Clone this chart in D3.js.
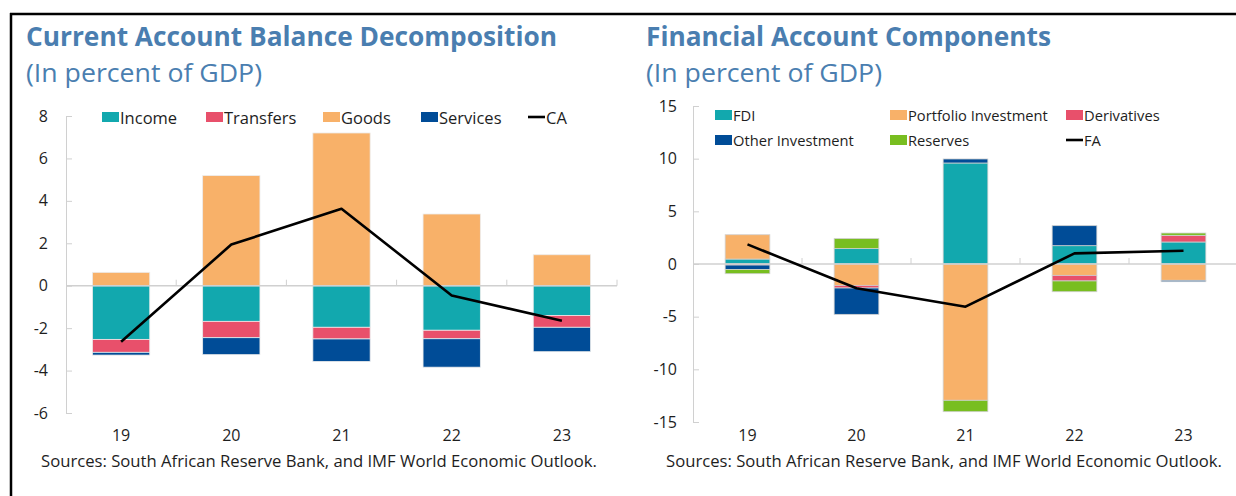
<!DOCTYPE html>
<html>
<head>
<meta charset="utf-8">
<script src="https://cdn.jsdelivr.net/npm/d3@7"></script>
<style>
  html, body { margin: 0; padding: 0; background: #fff; }
  svg { display: block; font-family: "Open Sans", "Noto Sans", sans-serif; }
</style>
</head>
<body>
<svg id="chart" width="1236" height="496"></svg>
<script>
// ---- Data (percent of GDP) ----
const years = ["19", "20", "21", "22", "23"];

// Current account components
const caKeys = ["Income", "Transfers", "Goods", "Services"];
const caIncome    = [-2.53, -1.68, -1.96, -2.10, -1.40];
const caTransfers = [-0.61, -0.77, -0.55, -0.40, -0.56];
const caGoods     = [ 0.63,  5.19,  7.20,  3.38,  1.46];
const caServices  = [-0.13, -0.80, -1.06, -1.34, -1.15];
const caBalance   = [-2.64,  1.94,  3.63, -0.46, -1.65];
const caTicks = [-6, -4, -2, 0, 2, 4, 6, 8];

// Financial account components
const faKeys = ["FDI", "Portfolio Investment", "Derivatives", "Other Investment", "Reserves"];
const faFDI         = [ 0.47,  1.46,   9.59,  1.74,  2.09];
const faPortfolio   = [ 2.31, -2.03, -12.94, -1.08, -1.55];
const faDerivatives = [-0.10, -0.25,   0.00, -0.53,  0.63];
const faOther       = [-0.42, -2.50,   0.38,  1.90, -0.13];
const faReserves    = [-0.40,  0.95,  -1.08, -1.02,  0.22];
const faBalance     = [ 1.86, -2.30,  -4.05,  1.01,  1.26];
const faTicks = [-15, -10, -5, 0, 5, 10, 15];

const sourceNote = "Sources: South African Reserve Bank, and IMF World Economic Outlook.";

const colors = {
  "Income": "#12a8ae", "Transfers": "#e8506b", "Goods": "#f8b169", "Services": "#004c97",
  "FDI": "#12a8ae", "Portfolio Investment": "#f8b169", "Derivatives": "#e8506b",
  "Other Investment": "#004c97", "Reserves": "#78be20"
};
const titleColor = "#4a7eb0";
const axisColor = "#d0d0d0";
const textColor = "#1e1e1e";

const svg = d3.select("#chart");

// Frame lines along the top and left
svg.append("line").attr("x1", 10).attr("x2", 1236).attr("y1", 14).attr("y2", 14)
  .attr("stroke", "#000").attr("stroke-width", 2.5);
svg.append("line").attr("x1", 11).attr("x2", 11).attr("y1", 13).attr("y2", 496)
  .attr("stroke", "#000").attr("stroke-width", 2.5);

// Integer labels with a plain hyphen for negatives
const fmt = d => String(d);

function panel(cfg) {
  const g = svg.append("g");

  // Titles
  g.append("text").attr("x", cfg.titleX).attr("y", 46)
    .attr("fill", titleColor).attr("font-weight", 700).attr("font-size", 26)
    .attr("textLength", cfg.titleLen).attr("lengthAdjust", "spacingAndGlyphs")
    .text(cfg.title);
  g.append("text").attr("x", cfg.titleX).attr("y", 82)
    .attr("fill", titleColor).attr("font-size", 25)
    .attr("textLength", 236).attr("lengthAdjust", "spacingAndGlyphs")
    .text("(In percent of GDP)");

  const x = d3.scaleBand().domain(years).range([cfg.x0, cfg.x1]).padding(0);
  const y = d3.scaleLinear().domain(cfg.yDomain).range([cfg.yBottom, cfg.yTop]);

  // Stacked bars (positives up, negatives down)
  const rows = years.map((yr, i) => {
    const r = { year: yr };
    cfg.keys.forEach((k, j) => { r[k] = cfg.values[j][i]; });
    return r;
  });
  const stacked = d3.stack().keys(cfg.keys).offset(d3.stackOffsetDiverging)(rows);
  const bw = x.bandwidth() * cfg.barFrac;

  g.selectAll("g.series").data(stacked).join("g")
    .attr("fill", d => colors[d.key])
    .selectAll("rect")
    .data(d => d.filter(s => Math.abs(s[1] - s[0]) > 0.005))
    .join("rect")
    .attr("x", d => x(d.data.year) + (x.bandwidth() - bw) / 2)
    .attr("width", bw)
    .attr("y", d => y(Math.max(d[0], d[1])))
    .attr("height", d => Math.abs(y(d[0]) - y(d[1])))
    .attr("stroke", cfg.barStroke).attr("stroke-width", 0.8);

  // Y axis with inward ticks
  const yAxis = d3.axisLeft(y).tickValues(cfg.ticks).tickSizeInner(-6).tickSizeOuter(-6)
    .tickPadding(cfg.labelGap).tickFormat(fmt);
  const ya = g.append("g").attr("transform", `translate(${cfg.x0},0)`).call(yAxis);
  ya.selectAll("path, line").attr("stroke", axisColor);
  ya.selectAll("text").attr("fill", textColor).attr("font-size", 16)
    .attr("font-family", "'Open Sans', sans-serif");

  // Zero line with category-boundary ticks pointing up
  const y0 = y(0);
  g.append("line").attr("x1", cfg.x0).attr("x2", cfg.x1).attr("y1", y0).attr("y2", y0)
    .attr("stroke", axisColor).attr("stroke-width", 1.5);
  const bounds = years.map(d => x(d) + x.bandwidth());
  g.selectAll("line.btick").data(bounds).join("line")
    .attr("x1", d => d).attr("x2", d => d).attr("y1", y0 - 6).attr("y2", y0)
    .attr("stroke", axisColor);

  // Balance line
  const line = d3.line().x((d, i) => x(years[i]) + x.bandwidth() / 2).y(d => y(d));
  g.append("path").datum(cfg.balance).attr("d", line)
    .attr("fill", "none").attr("stroke", "#000").attr("stroke-width", 2.6)
    .attr("stroke-linejoin", "round");

  // Category labels
  const xa = g.append("g").attr("transform", `translate(0,${cfg.labelY})`)
    .call(d3.axisBottom(x).tickSize(0).tickPadding(0));
  xa.select(".domain").remove();
  xa.selectAll("text").attr("fill", textColor).attr("font-size", 16)
    .attr("font-family", "'Open Sans', sans-serif");

  // Source note
  g.append("text").attr("x", cfg.sourceX).attr("y", 467)
    .attr("fill", textColor).attr("font-size", 15.5)
    .attr("textLength", 556).attr("lengthAdjust", "spacingAndGlyphs")
    .text(sourceNote);

  // Legend
  cfg.legend.forEach(item => {
    if (item.line) {
      g.append("line").attr("x1", item.x).attr("x2", item.x + 17)
        .attr("y1", item.y + 5).attr("y2", item.y + 5)
        .attr("stroke", "#000").attr("stroke-width", 2.6);
    } else {
      g.append("rect").attr("x", item.x).attr("y", item.y)
        .attr("width", 17).attr("height", 10).attr("fill", colors[item.key]);
    }
    g.append("text").attr("x", item.x + 18).attr("y", item.y + 5)
      .attr("dominant-baseline", "central")
      .attr("fill", textColor).attr("font-size", cfg.legendSize)
      .text(item.label);
  });
}

panel({
  title: "Current Account Balance Decomposition", titleX: 26, titleLen: 531,
  keys: caKeys, values: [caIncome, caTransfers, caGoods, caServices], balance: caBalance,
  x0: 66, x1: 617, yDomain: [-6, 8], yBottom: 413, yTop: 116, ticks: caTicks,
  barFrac: 0.52, barStroke: "#ececec", labelGap: 18, labelY: 430, sourceX: 41,
  legendSize: 16.5,
  legend: [
    { key: "Income", label: "Income", x: 102, y: 112 },
    { key: "Transfers", label: "Transfers", x: 206, y: 112 },
    { key: "Goods", label: "Goods", x: 323, y: 112 },
    { key: "Services", label: "Services", x: 421, y: 112 },
    { line: true, label: "CA", x: 528, y: 112 }
  ]
});

panel({
  title: "Financial Account Components", titleX: 646, titleLen: 405,
  keys: faKeys, values: [faFDI, faPortfolio, faDerivatives, faOther, faReserves], balance: faBalance,
  x0: 693, x1: 1238, yDomain: [-15, 15], yBottom: 422, yTop: 106, ticks: faTicks,
  barFrac: 0.41, barStroke: "#d0d0d0", labelGap: 16, labelY: 430, sourceX: 666,
  legendSize: 14.7,
  legend: [
    { key: "FDI", label: "FDI", x: 715, y: 110 },
    { key: "Portfolio Investment", label: "Portfolio Investment", x: 890, y: 110 },
    { key: "Derivatives", label: "Derivatives", x: 1066, y: 110 },
    { key: "Other Investment", label: "Other Investment", x: 715, y: 135 },
    { key: "Reserves", label: "Reserves", x: 890, y: 135 },
    { line: true, label: "FA", x: 1066, y: 135 }
  ]
});
</script>
</body>
</html>
